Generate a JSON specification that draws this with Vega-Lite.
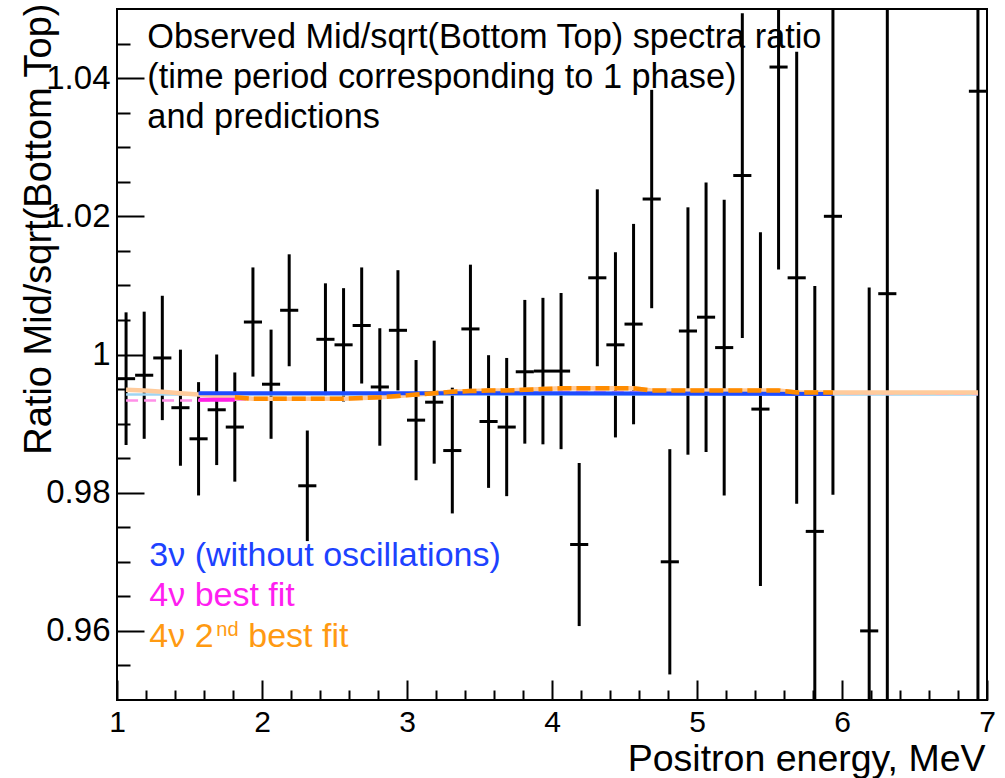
{
  "$schema": "https://vega.github.io/schema/vega-lite/v6.json",
  "autosize": {"type": "none"},
  "padding": {"left": 117, "top": 9, "right": 18, "bottom": 78},
  "width": 870,
  "height": 691,
  "background": "white",
  "config": {"font": "Liberation Sans", "view": {"stroke": "black", "strokeWidth": 2}},
  "resolve": {"axis": {"x": "independent", "y": "independent"}},
  "datasets": {
    "points": [
      {"E": 1.0625, "E_lo": 1.0, "E_hi": 1.125, "ratio": 0.9965, "lo": 0.9869, "hi": 1.0061},
      {"E": 1.1875, "E_lo": 1.125, "E_hi": 1.25, "ratio": 0.9970, "lo": 0.9878, "hi": 1.0062},
      {"E": 1.3125, "E_lo": 1.25, "E_hi": 1.375, "ratio": 0.9995, "lo": 0.9905, "hi": 1.0085},
      {"E": 1.4375, "E_lo": 1.375, "E_hi": 1.5, "ratio": 0.9923, "lo": 0.9839, "hi": 1.0007},
      {"E": 1.5625, "E_lo": 1.5, "E_hi": 1.625, "ratio": 0.9878, "lo": 0.9796, "hi": 0.9960},
      {"E": 1.6875, "E_lo": 1.625, "E_hi": 1.75, "ratio": 0.9920, "lo": 0.9840, "hi": 1.0000},
      {"E": 1.8125, "E_lo": 1.75, "E_hi": 1.875, "ratio": 0.9895, "lo": 0.9816, "hi": 0.9974},
      {"E": 1.9375, "E_lo": 1.875, "E_hi": 2.0, "ratio": 1.0047, "lo": 0.9968, "hi": 1.0126},
      {"E": 2.0625, "E_lo": 2.0, "E_hi": 2.125, "ratio": 0.9957, "lo": 0.9878, "hi": 1.0036},
      {"E": 2.1875, "E_lo": 2.125, "E_hi": 2.25, "ratio": 1.0064, "lo": 0.9983, "hi": 1.0145},
      {"E": 2.3125, "E_lo": 2.25, "E_hi": 2.375, "ratio": 0.9810, "lo": 0.9730, "hi": 0.9890},
      {"E": 2.4375, "E_lo": 2.375, "E_hi": 2.5, "ratio": 1.0022, "lo": 0.9941, "hi": 1.0103},
      {"E": 2.5625, "E_lo": 2.5, "E_hi": 2.625, "ratio": 1.0014, "lo": 0.9932, "hi": 1.0096},
      {"E": 2.6875, "E_lo": 2.625, "E_hi": 2.75, "ratio": 1.0042, "lo": 0.9958, "hi": 1.0126},
      {"E": 2.8125, "E_lo": 2.75, "E_hi": 2.875, "ratio": 0.9953, "lo": 0.9868, "hi": 1.0038},
      {"E": 2.9375, "E_lo": 2.875, "E_hi": 3.0, "ratio": 1.0035, "lo": 0.9948, "hi": 1.0122},
      {"E": 3.0625, "E_lo": 3.0, "E_hi": 3.125, "ratio": 0.9905, "lo": 0.9818, "hi": 0.9992},
      {"E": 3.1875, "E_lo": 3.125, "E_hi": 3.25, "ratio": 0.9931, "lo": 0.9842, "hi": 1.0020},
      {"E": 3.3125, "E_lo": 3.25, "E_hi": 3.375, "ratio": 0.9861, "lo": 0.9770, "hi": 0.9952},
      {"E": 3.4375, "E_lo": 3.375, "E_hi": 3.5, "ratio": 1.0037, "lo": 0.9944, "hi": 1.0130},
      {"E": 3.5625, "E_lo": 3.5, "E_hi": 3.625, "ratio": 0.9903, "lo": 0.9807, "hi": 0.9999},
      {"E": 3.6875, "E_lo": 3.625, "E_hi": 3.75, "ratio": 0.9895, "lo": 0.9795, "hi": 0.9995},
      {"E": 3.8125, "E_lo": 3.75, "E_hi": 3.875, "ratio": 0.9975, "lo": 0.9871, "hi": 1.0079},
      {"E": 3.9375, "E_lo": 3.875, "E_hi": 4.0, "ratio": 0.9976, "lo": 0.9870, "hi": 1.0082},
      {"E": 4.0625, "E_lo": 4.0, "E_hi": 4.125, "ratio": 0.9976, "lo": 0.9863, "hi": 1.0089},
      {"E": 4.1875, "E_lo": 4.125, "E_hi": 4.25, "ratio": 0.9725, "lo": 0.9607, "hi": 0.9843},
      {"E": 4.3125, "E_lo": 4.25, "E_hi": 4.375, "ratio": 1.0111, "lo": 0.9983, "hi": 1.0239},
      {"E": 4.4375, "E_lo": 4.375, "E_hi": 4.5, "ratio": 1.0014, "lo": 0.9880, "hi": 1.0148},
      {"E": 4.5625, "E_lo": 4.5, "E_hi": 4.625, "ratio": 1.0044, "lo": 0.9899, "hi": 1.0189},
      {"E": 4.6875, "E_lo": 4.625, "E_hi": 4.75, "ratio": 1.0225, "lo": 1.0067, "hi": 1.0383},
      {"E": 4.8125, "E_lo": 4.75, "E_hi": 4.875, "ratio": 0.9700, "lo": 0.9537, "hi": 0.9863},
      {"E": 4.9375, "E_lo": 4.875, "E_hi": 5.0, "ratio": 1.0034, "lo": 0.9855, "hi": 1.0213},
      {"E": 5.0625, "E_lo": 5.0, "E_hi": 5.125, "ratio": 1.0054, "lo": 0.9859, "hi": 1.0249},
      {"E": 5.1875, "E_lo": 5.125, "E_hi": 5.25, "ratio": 1.0010, "lo": 0.9796, "hi": 1.0224},
      {"E": 5.3125, "E_lo": 5.25, "E_hi": 5.375, "ratio": 1.0259, "lo": 1.0024, "hi": 1.0494},
      {"E": 5.4375, "E_lo": 5.375, "E_hi": 5.5, "ratio": 0.9921, "lo": 0.9665, "hi": 1.0177},
      {"E": 5.5625, "E_lo": 5.5, "E_hi": 5.625, "ratio": 1.0416, "lo": 1.0123, "hi": 1.0709},
      {"E": 5.6875, "E_lo": 5.625, "E_hi": 5.75, "ratio": 1.0111, "lo": 0.9784, "hi": 1.0438},
      {"E": 5.8125, "E_lo": 5.75, "E_hi": 5.875, "ratio": 0.9744, "lo": 0.9389, "hi": 1.0099},
      {"E": 5.9375, "E_lo": 5.875, "E_hi": 6.0, "ratio": 1.0200, "lo": 0.9797, "hi": 1.0603},
      {"E": 6.1875, "E_lo": 6.125, "E_hi": 6.25, "ratio": 0.9600, "lo": 0.9103, "hi": 1.0097},
      {"E": 6.3125, "E_lo": 6.25, "E_hi": 6.375, "ratio": 1.0088, "lo": 0.9388, "hi": 1.0788},
      {"E": 6.9375, "E_lo": 6.875, "E_hi": 7.0, "ratio": 1.0381, "lo": 0.9481, "hi": 1.1281}
    ],
    "m3faint": [
      {"E": 1.0625, "ratio": 0.9942},
      {"E": 6.9375, "ratio": 0.9942}
    ],
    "m4faint": [
      {"E": 1.0625, "ratio": 0.99335},
      {"E": 1.5625, "ratio": 0.99335},
      {"E": 1.8125, "ratio": 0.99345},
      {"E": 2.5625, "ratio": 0.9936},
      {"E": 3.4375, "ratio": 0.9947},
      {"E": 5.9375, "ratio": 0.9944},
      {"E": 6.9375, "ratio": 0.9943}
    ],
    "m42": [
      {"E": 1.0625, "ratio": 0.9949},
      {"E": 1.1875, "ratio": 0.9948},
      {"E": 1.3125, "ratio": 0.9946},
      {"E": 1.4375, "ratio": 0.9944},
      {"E": 1.5625, "ratio": 0.9942},
      {"E": 1.6875, "ratio": 0.9940},
      {"E": 1.8125, "ratio": 0.9938},
      {"E": 1.9375, "ratio": 0.9936},
      {"E": 2.0625, "ratio": 0.9936},
      {"E": 2.1875, "ratio": 0.9936},
      {"E": 2.3125, "ratio": 0.9936},
      {"E": 2.4375, "ratio": 0.9936},
      {"E": 2.5625, "ratio": 0.9936},
      {"E": 2.6875, "ratio": 0.9937},
      {"E": 2.8125, "ratio": 0.9938},
      {"E": 2.9375, "ratio": 0.9940},
      {"E": 3.0625, "ratio": 0.9942},
      {"E": 3.1875, "ratio": 0.9944},
      {"E": 3.3125, "ratio": 0.9946},
      {"E": 3.4375, "ratio": 0.9947},
      {"E": 3.5625, "ratio": 0.9948},
      {"E": 3.6875, "ratio": 0.9948},
      {"E": 3.8125, "ratio": 0.9949},
      {"E": 3.9375, "ratio": 0.9950},
      {"E": 4.0625, "ratio": 0.9951},
      {"E": 4.1875, "ratio": 0.9951},
      {"E": 4.3125, "ratio": 0.9951},
      {"E": 4.4375, "ratio": 0.9951},
      {"E": 4.5625, "ratio": 0.9951},
      {"E": 4.6875, "ratio": 0.9948},
      {"E": 4.8125, "ratio": 0.9948},
      {"E": 4.9375, "ratio": 0.9948},
      {"E": 5.0625, "ratio": 0.9948},
      {"E": 5.1875, "ratio": 0.9948},
      {"E": 5.3125, "ratio": 0.9948},
      {"E": 5.4375, "ratio": 0.9948},
      {"E": 5.5625, "ratio": 0.9948},
      {"E": 5.6875, "ratio": 0.9945},
      {"E": 5.8125, "ratio": 0.9945},
      {"E": 5.9375, "ratio": 0.9945},
      {"E": 6.0625, "ratio": 0.9945},
      {"E": 6.1875, "ratio": 0.9945},
      {"E": 6.3125, "ratio": 0.9945},
      {"E": 6.4375, "ratio": 0.9945},
      {"E": 6.5625, "ratio": 0.9945},
      {"E": 6.6875, "ratio": 0.9945},
      {"E": 6.8125, "ratio": 0.9945},
      {"E": 6.9375, "ratio": 0.9945}
    ],
    "m42bold": [
      {"E": 1.8125, "ratio": 0.9938},
      {"E": 1.9375, "ratio": 0.9936},
      {"E": 2.0625, "ratio": 0.9936},
      {"E": 2.1875, "ratio": 0.9936},
      {"E": 2.3125, "ratio": 0.9936},
      {"E": 2.4375, "ratio": 0.9936},
      {"E": 2.5625, "ratio": 0.9936},
      {"E": 2.6875, "ratio": 0.9937},
      {"E": 2.8125, "ratio": 0.9938},
      {"E": 2.9375, "ratio": 0.9940},
      {"E": 3.0625, "ratio": 0.9942},
      {"E": 3.1875, "ratio": 0.9944},
      {"E": 3.3125, "ratio": 0.9946},
      {"E": 3.4375, "ratio": 0.9947},
      {"E": 3.5625, "ratio": 0.9948},
      {"E": 3.6875, "ratio": 0.9948},
      {"E": 3.8125, "ratio": 0.9949},
      {"E": 3.9375, "ratio": 0.9950},
      {"E": 4.0625, "ratio": 0.9951},
      {"E": 4.1875, "ratio": 0.9951},
      {"E": 4.3125, "ratio": 0.9951},
      {"E": 4.4375, "ratio": 0.9951},
      {"E": 4.5625, "ratio": 0.9951},
      {"E": 4.6875, "ratio": 0.9948},
      {"E": 4.8125, "ratio": 0.9948},
      {"E": 4.9375, "ratio": 0.9948},
      {"E": 5.0625, "ratio": 0.9948},
      {"E": 5.1875, "ratio": 0.9948},
      {"E": 5.3125, "ratio": 0.9948},
      {"E": 5.4375, "ratio": 0.9948},
      {"E": 5.5625, "ratio": 0.9948},
      {"E": 5.6875, "ratio": 0.9945},
      {"E": 5.8125, "ratio": 0.9945},
      {"E": 5.9375, "ratio": 0.9945}
    ],
    "m3bold": [
      {"E": 1.5625, "ratio": 0.9944},
      {"E": 3.9375, "ratio": 0.9944},
      {"E": 5.9375, "ratio": 0.9943}
    ],
    "m4bold": [
      {"E": 1.5625, "ratio": 0.99345},
      {"E": 1.8125, "ratio": 0.99345}
    ],
    "one": [{}]
  },
  "layer": [
    {
      "data": {"name": "points"},
      "mark": {"type": "rule", "color": "black", "strokeWidth": 3, "clip": true},
      "encoding": {
        "x": {"field": "E", "type": "quantitative",
          "scale": {"domain": [1, 7], "nice": false, "zero": false},
          "axis": {"orient": "bottom", "values": [1, 2, 3, 4, 5, 6, 7], "format": "~g", "ticks": false, "domain": false, "grid": false,
            "labelFontSize": 30, "labelColor": "black", "labelBaseline": "alphabetic", "labelPadding": 31,
            "labelFlush": false, "labelOverlap": false,
            "title": "Positron energy, MeV", "titleFontSize": 37.5, "titleFontWeight": "normal", "titleColor": "black",
            "titleAnchor": "end", "titleAlign": "right", "titleBaseline": "alphabetic", "titleX": 868, "titleY": 70}},
        "y": {"field": "lo", "type": "quantitative",
          "scale": {"domain": [0.95, 1.05], "nice": false, "zero": false},
          "axis": {"orient": "left", "values": [0.96, 0.98, 1.0, 1.02, 1.04], "format": "~g", "ticks": false, "domain": false, "grid": false,
            "labelFontSize": 33, "labelColor": "black", "labelBaseline": "middle", "labelAlign": "right", "labelPadding": 7,
            "labelFlush": false, "labelOverlap": false,
            "title": "Ratio Mid/sqrt(Bottom Top)", "titleFontSize": 38, "titleFontWeight": "normal", "titleColor": "black",
            "titleAngle": 270, "titleAlign": "right", "titleBaseline": "alphabetic", "titleX": -67, "titleY": -6}},
        "y2": {"field": "hi"}
      }
    },
    {
      "data": {"name": "points"},
      "mark": {"type": "rule", "color": "black", "strokeWidth": 3, "clip": true},
      "encoding": {
        "x": {"field": "E_lo", "type": "quantitative",
          "axis": {"orient": "bottom", "values": [1, 2, 3, 4, 5, 6, 7], "labels": false, "domain": false, "grid": false,
            "ticks": true, "tickSize": -20, "tickWidth": 2, "tickColor": "black", "title": null}},
        "x2": {"field": "E_hi"},
        "y": {"field": "ratio", "type": "quantitative",
          "axis": {"orient": "left", "values": [0.96, 0.98, 1.0, 1.02, 1.04], "labels": false, "domain": false, "grid": false,
            "ticks": true, "tickSize": -27, "tickWidth": 2, "tickColor": "black", "title": null}}
      }
    },
    {
      "data": {"name": "m3faint"},
      "mark": {"type": "line", "color": "#9fd4f2", "strokeWidth": 2.5, "clip": true},
      "encoding": {
        "x": {"field": "E", "type": "quantitative",
          "axis": {"orient": "bottom", "values": [1.2, 1.4, 1.6, 1.8, 2.2, 2.4, 2.6, 2.8, 3.2, 3.4, 3.6, 3.8, 4.2, 4.4, 4.6, 4.8, 5.2, 5.4, 5.6, 5.8, 6.2, 6.4, 6.6, 6.8],
            "labels": false, "domain": false, "grid": false, "ticks": true, "tickSize": -10, "tickWidth": 2, "tickColor": "black", "title": null}},
        "y": {"field": "ratio", "type": "quantitative",
          "axis": {"orient": "left", "values": [0.955, 0.965, 0.97, 0.975, 0.985, 0.99, 0.995, 1.005, 1.01, 1.015, 1.025, 1.03, 1.035, 1.045],
            "labels": false, "domain": false, "grid": false, "ticks": true, "tickSize": -13, "tickWidth": 2, "tickColor": "black", "title": null}}
      }
    },
    {
      "data": {"name": "m4faint"},
      "mark": {"type": "line", "color": "#ff90e8", "strokeWidth": 2.5, "strokeDash": [12, 6], "clip": true},
      "encoding": {
        "x": {"field": "E", "type": "quantitative", "axis": null},
        "y": {"field": "ratio", "type": "quantitative", "axis": null}
      }
    },
    {
      "data": {"name": "m42"},
      "mark": {"type": "line", "color": "#ffcb9c", "strokeWidth": 4.5, "clip": true},
      "encoding": {
        "x": {"field": "E", "type": "quantitative", "axis": null},
        "y": {"field": "ratio", "type": "quantitative", "axis": null}
      }
    },
    {
      "data": {"name": "m3bold"},
      "mark": {"type": "line", "color": "#1f4cff", "strokeWidth": 4, "clip": true},
      "encoding": {
        "x": {"field": "E", "type": "quantitative", "axis": null},
        "y": {"field": "ratio", "type": "quantitative", "axis": null}
      }
    },
    {
      "data": {"name": "m4bold"},
      "mark": {"type": "line", "color": "#ff1ee6", "strokeWidth": 4, "clip": true},
      "encoding": {
        "x": {"field": "E", "type": "quantitative", "axis": null},
        "y": {"field": "ratio", "type": "quantitative", "axis": null}
      }
    },
    {
      "data": {"name": "m42bold"},
      "mark": {"type": "line", "color": "#ff8c00", "strokeWidth": 4.5, "strokeDash": [14, 5], "clip": true},
      "encoding": {
        "x": {"field": "E", "type": "quantitative", "axis": null},
        "y": {"field": "ratio", "type": "quantitative", "axis": null}
      }
    },
    {
      "data": {"name": "one"},
      "mark": {"type": "text", "text": ["Observed Mid/sqrt(Bottom Top) spectra ratio", "(time period corresponding to 1 phase)", "and predictions"],
        "align": "left", "baseline": "alphabetic", "fontSize": 34.3, "lineHeight": 40, "color": "black"},
      "encoding": {
        "x": {"datum": 1.209, "type": "quantitative", "axis": null},
        "y": {"datum": 1.0443, "type": "quantitative", "axis": null}
      }
    },
    {
      "data": {"name": "one"},
      "mark": {"type": "text", "text": "3ν (without oscillations)", "align": "left", "baseline": "alphabetic", "fontSize": 34, "color": "#1d42ff"},
      "encoding": {
        "x": {"datum": 1.2228, "type": "quantitative", "axis": null},
        "y": {"datum": 0.96939, "type": "quantitative", "axis": null}
      }
    },
    {
      "data": {"name": "one"},
      "mark": {"type": "text", "text": "4ν best fit", "align": "left", "baseline": "alphabetic", "fontSize": 34, "color": "#ff1ef0"},
      "encoding": {
        "x": {"datum": 1.2228, "type": "quantitative", "axis": null},
        "y": {"datum": 0.96361, "type": "quantitative", "axis": null}
      }
    },
    {
      "data": {"name": "one"},
      "mark": {"type": "text", "text": "4ν 2", "align": "left", "baseline": "alphabetic", "fontSize": 34, "color": "#ff9a12"},
      "encoding": {
        "x": {"datum": 1.2228, "type": "quantitative", "axis": null},
        "y": {"datum": 0.9576, "type": "quantitative", "axis": null}
      }
    },
    {
      "data": {"name": "one"},
      "mark": {"type": "text", "text": "nd", "align": "left", "baseline": "alphabetic", "fontSize": 20, "dx": 67, "dy": -11, "color": "#ff9a12"},
      "encoding": {
        "x": {"datum": 1.2228, "type": "quantitative", "axis": null},
        "y": {"datum": 0.9576, "type": "quantitative", "axis": null}
      }
    },
    {
      "data": {"name": "one"},
      "mark": {"type": "text", "text": "best fit", "align": "left", "baseline": "alphabetic", "fontSize": 34, "dx": 99, "color": "#ff9a12"},
      "encoding": {
        "x": {"datum": 1.2228, "type": "quantitative", "axis": null},
        "y": {"datum": 0.9576, "type": "quantitative", "axis": null}
      }
    }
  ]
}
